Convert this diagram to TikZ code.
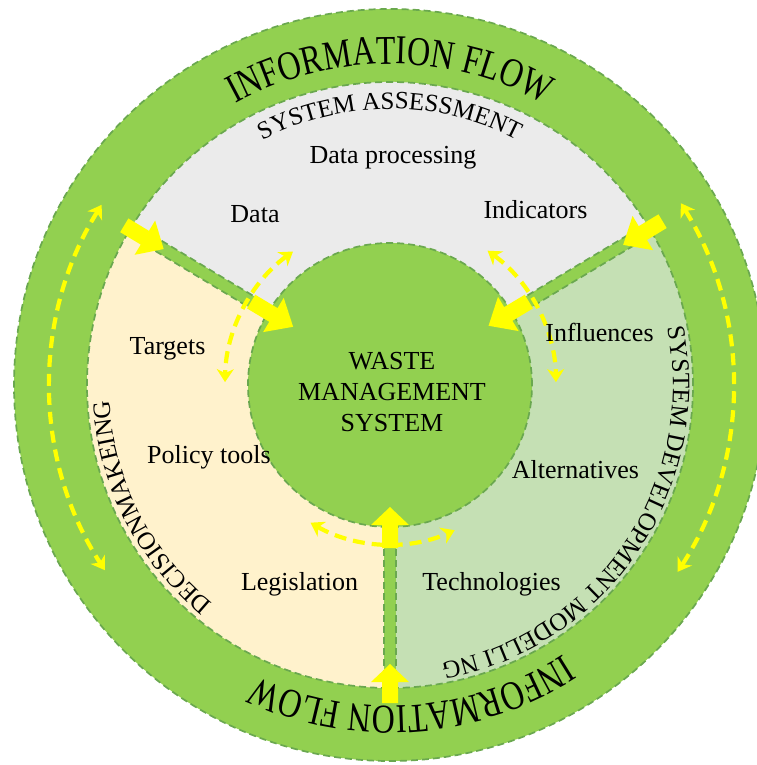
\documentclass[tikz,border=0pt]{standalone}
\usepackage{fontspec}
\setmainfont{Liberation Serif}
\newfontfamily\stretchfont[FakeStretch=0.78]{Liberation Serif}
\usetikzlibrary{decorations.text, arrows.meta}
\definecolor{ringgreen}{HTML}{92D050}
\definecolor{edgegreen}{HTML}{6AA84F}
\definecolor{sectgray}{HTML}{EBEBEB}
\definecolor{sectcream}{HTML}{FFF2CC}
\definecolor{sectgreen}{HTML}{C5E0B4}
\definecolor{flowyellow}{HTML}{FFFF00}
\tikzset{
  edgedash/.style={draw=edgegreen, line width=1.7pt, dash pattern=on 7pt off 4pt},
  flowarrow/.style={draw=flowyellow, line width=4.2pt, dash pattern=on 12pt off 7pt,
     {Stealth[length=13pt,width=17pt,inset=4pt]}-{Stealth[length=13pt,width=17pt,inset=4pt]}},
  lbl/.style={font=\fontsize{26}{30}\selectfont, anchor=base, inner sep=0pt},
}
\newcommand\blockarrow[6]{%
  \fill[flowyellow, rotate=#1] (#2,-#5) -- (#3,-#5) -- (#3,-#6) -- (#4,0) -- (#3,#6) -- (#3,#5) -- (#2,#5) -- cycle;}
\newcommand\sectorband[1]{%
  \begin{scope}[rotate=#1]
    \fill[ringgreen] (135,-6) rectangle (310,6);
    \draw[edgedash] (142,-6) -- (303,-6);
    \draw[edgedash] (142,6) -- (303,6);
  \end{scope}}
\begin{document}
\begin{tikzpicture}[x=1pt,y=1pt]
\useasboundingbox (-390,-380) rectangle (366,385);
% outer ring
\fill[ringgreen] (0,0) circle[radius=376];
\draw[edgedash] (0,0) circle[radius=376];
% sectors
\fill[sectgray] (0,0) -- (31:303) arc[start angle=31, end angle=149, radius=303] -- cycle;
\fill[sectcream] (0,0) -- (149:303) arc[start angle=149, end angle=270, radius=303] -- cycle;
\fill[sectgreen] (0,0) -- (270:303) arc[start angle=270, end angle=391, radius=303] -- cycle;
% bands
\sectorband{149}
\sectorband{31}
\sectorband{270}
% centre circle
\fill[ringgreen] (0,0) circle[radius=142];
\draw[edgedash] (0,0) circle[radius=142];
\draw[edgedash] (0,0) circle[radius=303];
% block arrows
\blockarrow{149}{310}{286}{264}{8}{20}
\blockarrow{149}{162}{136}{113}{8}{20}
\blockarrow{31}{318}{295}{272}{8}{20}
\blockarrow{31}{162}{138}{115}{8}{20}
\blockarrow{270}{318}{297}{279}{8}{19}
\blockarrow{270}{163}{140}{122}{8}{19}
% dashed flow arrows
\draw[flowarrow] (148:340) arc[start angle=148, end angle=213, radius=340];
\draw[flowarrow] (32:343) arc[start angle=32, end angle=-33, radius=343];
\draw[flowarrow] (126:165) arc[start angle=126, end angle=179, radius=165];
\draw[flowarrow] (54:166) arc[start angle=54, end angle=1, radius=166];
\draw[flowarrow] (240:159) arc[start angle=240, end angle=294, radius=159];
% curved texts
\path[decorate, decoration={text along path, text align=center,
  text={|\stretchfont\fontsize{41}{41}\selectfont|INFORMATION FLOW}}]
  (150:321) arc[start angle=150, end angle=30, radius=321];
\path[decorate, decoration={text along path, text align=center,
  text={|\stretchfont\fontsize{41}{41}\selectfont|INFORMATION FLOW}}]
  (-26:321) arc[start angle=-26, end angle=-146, radius=321];
\path[decorate, decoration={text along path, text align=center,
  text={|\fontsize{25}{25}\selectfont|SYSTEM ASSESSMENT}}]
  (150:276) arc[start angle=150, end angle=30, radius=276];
\path[decorate, decoration={text along path, text align=center,
  text={|\fontsize{25}{25}\selectfont|DECISIONMAKEING}}]
  (262:281) arc[start angle=262, end angle=152, radius=281];
\path[decorate, decoration={text along path, text align=center,
  text={|\fontsize{25}{25}\selectfont|SYSTEM DEVELOPMENT MODELLI NG}}]
  (21:283) arc[start angle=21, end angle=-89, radius=283];
% labels
\node[lbl] (dp) at (3,221) {Data processing};
\node[lbl] (data) at (-135,162) {Data};
\node[lbl] (ind) at (145.5,166) {Indicators};
\node[lbl] (tgt) at (-222.5,30) {Targets};
\node[lbl] (inf) at (209.5,43) {Influences};
\node[lbl] (pol) at (-181,-78) {Policy tools};
\node[lbl] (alt) at (185.5,-93) {Alternatives};
\node[lbl] (leg) at (-90.5,-205) {Legislation};
\node[lbl] (tech) at (101.5,-205) {Technologies};
\node[font=\fontsize{26}{31}\selectfont, align=center, inner sep=0pt] (wms) at (2,-7)
  {WASTE\\MANAGEMENT\\SYSTEM};
\end{tikzpicture}
\end{document}
